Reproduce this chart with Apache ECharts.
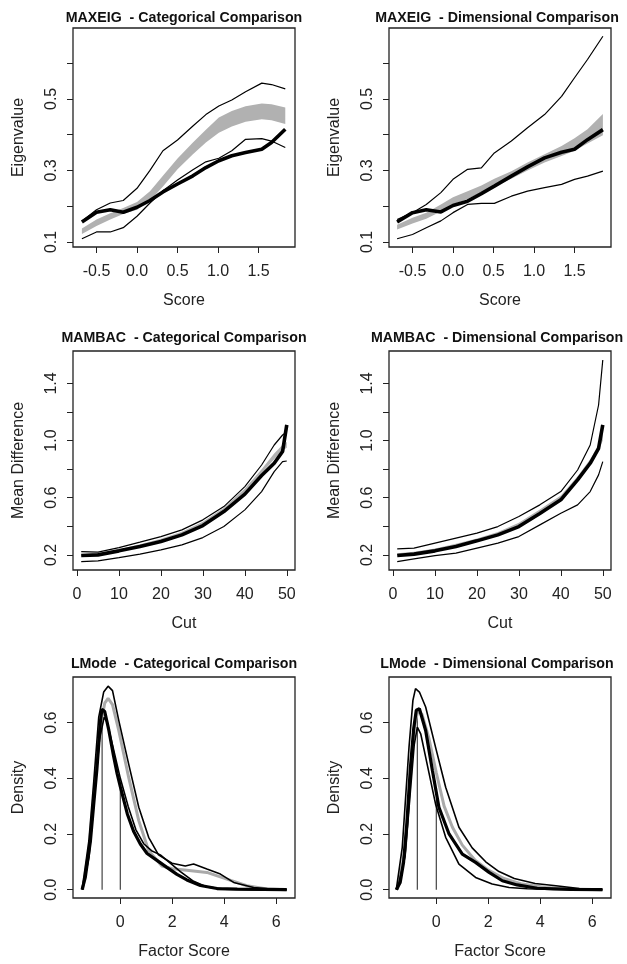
<!DOCTYPE html>
<html>
<head>
<meta charset="utf-8">
<script src="https://cdn.jsdelivr.net/npm/echarts@6/dist/echarts.min.js"></script>
<style>
html,body{margin:0;padding:0;background:#fff;}
#c{width:627px;height:964px;}
</style>
</head>
<body>
<div id="c"></div>
<script>
// ---------------- DATA ----------------
// MAXEIG - Categorical
const meCatX     = [-0.68,-0.5,-0.33,-0.17,0.0,0.16,0.32,0.5,0.69,0.85,1.01,1.17,1.34,1.54,1.66,1.83];
const meCatObs   = [0.156,0.183,0.19,0.183,0.197,0.216,0.24,0.262,0.285,0.308,0.327,0.341,0.35,0.359,0.378,0.415];
const meCatUpper = [0.158,0.19,0.209,0.216,0.25,0.3,0.355,0.385,0.424,0.456,0.48,0.497,0.52,0.544,0.54,0.528];
const meCatLower = [0.109,0.128,0.128,0.14,0.172,0.209,0.243,0.273,0.302,0.324,0.334,0.355,0.387,0.389,0.382,0.364];
const meCatBandLo= [0.122,0.145,0.163,0.178,0.19,0.215,0.255,0.303,0.345,0.378,0.405,0.423,0.436,0.443,0.44,0.43];
const meCatBandHi= [0.138,0.163,0.18,0.195,0.212,0.242,0.285,0.333,0.378,0.414,0.448,0.466,0.479,0.487,0.485,0.476];

// MAXEIG - Dimensional
const meDimX     = [-0.69,-0.5,-0.33,-0.15,0.0,0.18,0.35,0.51,0.72,0.92,1.13,1.34,1.5,1.66,1.85];
const meDimObs   = [0.156,0.182,0.19,0.184,0.202,0.214,0.235,0.256,0.284,0.31,0.335,0.351,0.359,0.386,0.414];
const meDimUpper = [0.163,0.182,0.205,0.238,0.275,0.303,0.307,0.349,0.382,0.419,0.456,0.507,0.559,0.61,0.675];
const meDimLower = [0.109,0.121,0.14,0.159,0.182,0.205,0.208,0.208,0.228,0.242,0.252,0.261,0.275,0.284,0.298];
const meDimBandLo= [0.135,0.152,0.165,0.185,0.205,0.22,0.238,0.255,0.277,0.3,0.322,0.34,0.355,0.375,0.398];
const meDimBandHi= [0.148,0.168,0.182,0.205,0.225,0.242,0.258,0.277,0.298,0.322,0.345,0.368,0.39,0.415,0.458];

// MAMBAC (cuts)
const mbCut      = [1,5,10,15,20,25,30,35,40,44,47,49,50];
const mbCatObs   = [0.195,0.2,0.228,0.258,0.293,0.34,0.405,0.503,0.625,0.755,0.841,0.923,1.11];
const mbCatUpper = [0.223,0.219,0.251,0.289,0.328,0.375,0.445,0.538,0.678,0.829,0.969,1.039,1.06];
const mbCatLower = [0.153,0.158,0.181,0.205,0.235,0.27,0.321,0.398,0.515,0.643,0.783,0.853,0.857];
const mbCatBandLo= [0.19,0.2,0.228,0.262,0.3,0.348,0.415,0.51,0.64,0.77,0.87,0.93,0.95];
const mbCatBandHi= [0.205,0.212,0.24,0.275,0.313,0.362,0.432,0.53,0.665,0.8,0.91,0.97,0.99];

const mbDimObs   = [0.195,0.205,0.228,0.258,0.298,0.34,0.398,0.49,0.585,0.725,0.841,0.946,1.11];
const mbDimUpper = [0.242,0.247,0.282,0.317,0.352,0.398,0.468,0.55,0.643,0.794,0.969,1.249,1.564];
const mbDimLower = [0.153,0.172,0.195,0.212,0.247,0.282,0.328,0.41,0.491,0.55,0.643,0.76,0.853];
const mbDimBandLo= [0.2,0.21,0.232,0.263,0.3,0.345,0.408,0.497,0.59,0.72,0.83,0.93,1.0];
const mbDimBandHi= [0.212,0.222,0.245,0.277,0.315,0.36,0.425,0.517,0.615,0.75,0.87,0.97,1.06];

// LMode - Categorical
const lmCatObsX  = [-1.47,-1.35,-1.15,-1.03,-0.9,-0.77,-0.71,-0.6,-0.44,-0.26,-0.12,0.0,0.27,0.51,0.77,1.03,1.41,1.79,2.18,2.56,3.08,3.72,4.5,5.5,6.4];
const lmCatObsY  = [0,0.043,0.175,0.3,0.434,0.6,0.648,0.64,0.572,0.48,0.416,0.37,0.272,0.21,0.164,0.13,0.105,0.08,0.055,0.035,0.015,0.004,0.002,0.001,0];
const lmCatUpX   = [-1.47,-1.21,-1.02,-0.83,-0.64,-0.47,-0.3,-0.06,0.32,0.71,1.09,1.47,1.99,2.5,2.82,3.33,3.85,4.36,5.13,5.8,6.4];
const lmCatUpY   = [0,0.175,0.39,0.62,0.71,0.731,0.715,0.608,0.452,0.296,0.188,0.125,0.095,0.085,0.092,0.074,0.056,0.026,0.008,0.002,0];
const lmCatLoX   = [-1.45,-1.2,-1.0,-0.8,-0.62,-0.5,-0.3,0.0,0.3,0.6,0.9,1.2,1.54,1.92,2.31,2.82,3.33,4.0,5.0,6.4];
const lmCatLoY   = [0,0.12,0.33,0.54,0.62,0.6,0.52,0.4,0.3,0.215,0.165,0.14,0.125,0.095,0.065,0.03,0.01,0.002,0,0];
const lmCatMidX  = [-1.45,-1.2,-1.0,-0.8,-0.6,-0.47,-0.3,-0.06,0.32,0.71,1.09,1.6,2.0,2.56,3.33,4.1,4.87,5.64,6.4];
const lmCatMidY  = [0,0.15,0.36,0.57,0.67,0.687,0.665,0.572,0.404,0.248,0.14,0.085,0.075,0.07,0.062,0.038,0.014,0.002,0];
const lmCatModeX = [-0.7,0.0];
const lmCatModeH = [0.64,0.37];

// LMode - Dimensional
const lmDimObsX  = [-1.54,-1.39,-1.26,-1.13,-1.0,-0.87,-0.77,-0.65,-0.41,-0.15,0.1,0.49,1.0,1.51,2.03,2.54,3.11,3.88,5.17,6.39];
const lmDimObsY  = [0,0.026,0.098,0.242,0.434,0.578,0.645,0.65,0.572,0.428,0.296,0.2,0.128,0.098,0.062,0.032,0.017,0.005,0.001,0];
const lmDimUpX   = [-1.54,-1.31,-1.05,-0.9,-0.8,-0.65,-0.41,-0.03,0.36,0.87,1.38,1.9,2.41,3.0,3.8,4.6,5.5,6.39];
const lmDimUpY   = [0,0.152,0.512,0.68,0.722,0.71,0.656,0.512,0.368,0.224,0.15,0.1,0.065,0.04,0.022,0.014,0.004,0];
const lmDimLoX   = [-1.5,-1.2,-1.0,-0.85,-0.73,-0.6,-0.41,-0.03,0.36,0.87,1.51,2.15,2.8,3.5,4.5,6.39];
const lmDimLoY   = [0,0.12,0.35,0.52,0.584,0.56,0.476,0.308,0.188,0.092,0.044,0.02,0.008,0.003,0.001,0];
const lmDimMidX  = [-1.5,-1.2,-1.0,-0.85,-0.72,-0.55,-0.3,0.0,0.3,0.62,1.0,1.5,2.0,2.6,3.3,4.2,5.2,6.39];
const lmDimMidY  = [0,0.14,0.4,0.58,0.64,0.63,0.55,0.42,0.3,0.224,0.16,0.105,0.07,0.04,0.02,0.008,0.002,0];
const lmDimModeX = [-0.73,0.0];
const lmDimModeH = [0.64,0.32];

// Ticks / labels
const meXTicks = [-0.5,0,0.5,1,1.5];
const meYTicks = [0.1,0.2,0.3,0.4,0.5,0.6];
const meYLabels= [0.1,0.3,0.5];
const mbXTicks = [0,10,20,30,40,50];
const mbYTicks = [0.2,0.4,0.6,0.8,1.0,1.2,1.4];
const mbYLabels= [0.2,0.6,1.0,1.4];
const lmXTicks = [0,2,4,6];
const lmYTicks = [0,0.2,0.4,0.6];

const titles = ['MAXEIG  - Categorical Comparison','MAXEIG  - Dimensional Comparison',
                'MAMBAC  - Categorical Comparison','MAMBAC  - Dimensional Comparison',
                'LMode  - Categorical Comparison','LMode  - Dimensional Comparison'];
const xNames = ['Score','Score','Cut','Cut','Factor Score','Factor Score'];
const yNames = ['Eigenvalue','Eigenvalue','Mean Difference','Mean Difference','Density','Density'];

// ---------------- LAYOUT ----------------
const FONT = '"Liberation Sans", Arial, sans-serif';
const INK = '#222';
const gridPos = [
  {left:73, top:28, width:222, height:219},
  {left:389, top:28, width:222, height:219},
  {left:73, top:351, width:222, height:219},
  {left:389, top:351, width:222, height:219},
  {left:73, top:677, width:222, height:221},
  {left:389, top:677, width:222, height:221}
];
const xRange = [[-0.79,1.95],[-0.79,1.95],[-0.96,51.96],[-0.96,51.96],[-1.82,6.72],[-1.82,6.72]];
const yRange = [[0.086,0.698],[0.086,0.698],[0.094,1.627],[0.094,1.627],[-0.03,0.764],[-0.03,0.764]];
const xTickSets = [meXTicks,meXTicks,mbXTicks,mbXTicks,lmXTicks,lmXTicks];
const yTickSets = [meYTicks,meYTicks,mbYTicks,mbYTicks,lmYTicks,lmYTicks];
const yLabelSets= [meYLabels,meYLabels,mbYLabels,mbYLabels,lmYTicks,lmYTicks];
const xFmt = [v=>v.toFixed(1),v=>v.toFixed(1),v=>String(Math.round(v)),v=>String(Math.round(v)),v=>String(Math.round(v)),v=>String(Math.round(v))];

const grids = gridPos.map(g => Object.assign({show:true, borderColor:INK, borderWidth:1.3, backgroundColor:'#fff'}, g));

const xAxes = gridPos.map((g,i)=>({
  type:'value', gridIndex:i, min:xRange[i][0], max:xRange[i][1], position:'bottom',
  name:xNames[i], nameLocation:'middle', nameGap:46,
  nameTextStyle:{fontSize:16, color:INK, fontFamily:FONT},
  axisLine:{show:false, onZero:false}, splitLine:{show:false},
  axisTick:{show:true, length:6, customValues:xTickSets[i], lineStyle:{color:INK, width:1}},
  axisLabel:{customValues:xTickSets[i], formatter:xFmt[i], fontSize:16, color:INK, fontFamily:FONT, margin:17}
}));
const yAxes = gridPos.map((g,i)=>({
  type:'value', gridIndex:i, min:yRange[i][0], max:yRange[i][1], position:'left',
  name:yNames[i], nameLocation:'middle', nameGap:46, nameRotate:90,
  nameTextStyle:{fontSize:16, color:INK, fontFamily:FONT},
  axisLine:{show:false, onZero:false}, splitLine:{show:false},
  axisTick:{show:true, length:6, customValues:yTickSets[i], lineStyle:{color:INK, width:1}},
  axisLabel:{customValues:yLabelSets[i], formatter:v=>v.toFixed(1), rotate:90, fontSize:16, color:INK, fontFamily:FONT, margin:13}
}));

function pairs(xs, ys){ return xs.map((x,k)=>[x, ys[k]]); }
function line(i, xs, ys, w, color, z){
  return {type:'line', xAxisIndex:i, yAxisIndex:i, data:pairs(xs,ys), showSymbol:false, symbol:'none',
    lineStyle:{width:w, color:color}, z:z, silent:true, animation:false, clip:true};
}
function band(i, xs, lo, hi){
  return {type:'custom', xAxisIndex:i, yAxisIndex:i, silent:true, z:1, animation:false,
    data:[[xs[0], lo[0]]],
    renderItem:function(params, api){
      const pts=[];
      for(let k=0;k<xs.length;k++) pts.push(api.coord([xs[k], hi[k]]));
      for(let k=xs.length-1;k>=0;k--) pts.push(api.coord([xs[k], lo[k]]));
      return {type:'polygon', shape:{points:pts}, style:{fill:'#b1b1b1', stroke:null}};
    }};
}
function modeLines(i, xs, hs){
  return xs.map((x,k)=>({type:'line', xAxisIndex:i, yAxisIndex:i, data:[[x,0],[x,hs[k]]],
    showSymbol:false, symbol:'none', lineStyle:{width:1.2, color:'#444'}, z:2, silent:true, animation:false}));
}

const THICK = 3.6, THIN = 1.2;
const series = [
  band(0, meCatX, meCatBandLo, meCatBandHi),
  line(0, meCatX, meCatUpper, THIN, '#000', 3),
  line(0, meCatX, meCatLower, THIN, '#000', 3),
  line(0, meCatX, meCatObs, THICK, '#000', 4),

  band(1, meDimX, meDimBandLo, meDimBandHi),
  line(1, meDimX, meDimUpper, THIN, '#000', 3),
  line(1, meDimX, meDimLower, THIN, '#000', 3),
  line(1, meDimX, meDimObs, THICK, '#000', 4),

  band(2, mbCut, mbCatBandLo, mbCatBandHi),
  line(2, mbCut, mbCatUpper, THIN, '#000', 3),
  line(2, mbCut, mbCatLower, THIN, '#000', 3),
  line(2, mbCut, mbCatObs, THICK, '#000', 4),

  band(3, mbCut, mbDimBandLo, mbDimBandHi),
  line(3, mbCut, mbDimUpper, THIN, '#000', 3),
  line(3, mbCut, mbDimLower, THIN, '#000', 3),
  line(3, mbCut, mbDimObs, THICK, '#000', 4),

  ...modeLines(4, lmCatModeX, lmCatModeH),
  line(4, lmCatMidX, lmCatMidY, 3, '#aaaaaa', 3),
  line(4, lmCatUpX, lmCatUpY, 1.6, '#000', 3),
  line(4, lmCatLoX, lmCatLoY, 1.6, '#000', 3),
  line(4, lmCatObsX, lmCatObsY, 3.2, '#000', 4),

  ...modeLines(5, lmDimModeX, lmDimModeH),
  line(5, lmDimMidX, lmDimMidY, 3, '#aaaaaa', 3),
  line(5, lmDimUpX, lmDimUpY, 1.6, '#000', 3),
  line(5, lmDimLoX, lmDimLoY, 1.6, '#000', 3),
  line(5, lmDimObsX, lmDimObsY, 3.2, '#000', 4)
];

const titleY = [18, 18, 338, 338, 664, 664];
const titleX = [184, 497, 184, 497, 184, 497];
const graphic = titles.map((t,i)=>({
  type:'text', x:titleX[i], y:titleY[i], silent:true,
  style:{text:t, fill:'#111', font:'bold 14.2px ' + FONT, align:'center', verticalAlign:'middle'}
}));

const chart = echarts.init(document.getElementById('c'), null, {renderer:'canvas'});
chart.setOption({
  animation:false,
  backgroundColor:'#fff',
  grid:grids, xAxis:xAxes, yAxis:yAxes, series:series, graphic:graphic
});
</script>
</body>
</html>
